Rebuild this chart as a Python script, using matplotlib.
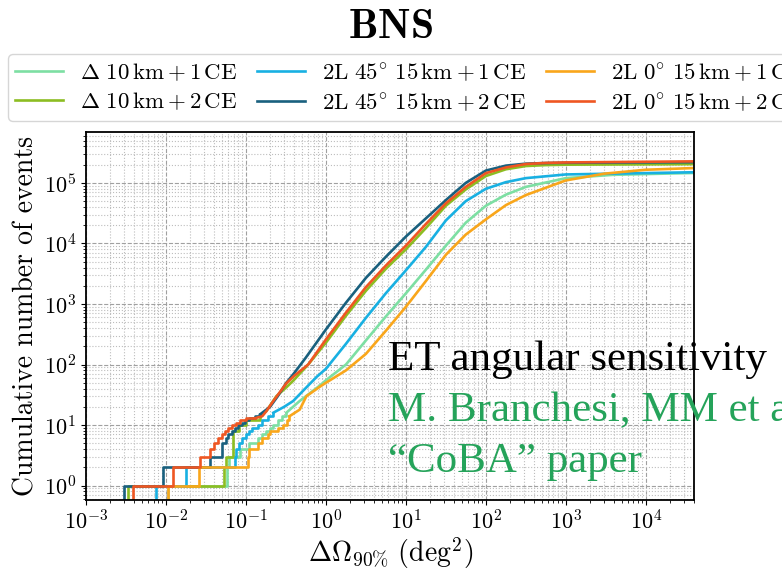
import numpy as np
import matplotlib
matplotlib.use('Agg')
import matplotlib.pyplot as plt

plt.rcParams['font.family'] = 'serif'
plt.rcParams['font.serif'] = ['cmr10']
plt.rcParams['mathtext.fontset'] = 'cm'
plt.rcParams['axes.formatter.use_mathtext'] = True

labels = [r'$\Delta\ 10\,\mathrm{km} + 1\,\mathrm{CE}$',
          r'$\Delta\ 10\,\mathrm{km} + 2\,\mathrm{CE}$',
          r'$2\mathrm{L}\ 45^{\circ}\ 15\,\mathrm{km} + 1\,\mathrm{CE}$',
          r'$2\mathrm{L}\ 45^{\circ}\ 15\,\mathrm{km} + 2\,\mathrm{CE}$',
          r'$2\mathrm{L}\ 0^{\circ}\ 15\,\mathrm{km} + 1\,\mathrm{CE}$',
          r'$2\mathrm{L}\ 0^{\circ}\ 15\,\mathrm{km} + 2\,\mathrm{CE}$']
colors = ['#7ddfa3', '#8cbd22', '#18b0e2', '#19607e', '#f9a61b', '#ef5622']

# low-count part: sky area (deg^2) where the cumulative count steps up
mint_sx = [0.0105, 0.058, 0.061, 0.085, 0.11, 0.14, 0.16, 0.18, 0.20, 0.22, 0.25, 0.28, 0.32]
mint_sn = [1, 2, 3, 4, 5, 6, 7, 8, 9, 10, 12, 14, 16]
green_sx = [0.00333, 0.053, 0.057, 0.069, 0.083, 0.10, 0.148]
green_sn = [1, 2, 3, 8, 10, 12, 14]
lblue_sx = [0.0075, 0.0176, 0.072, 0.075, 0.083, 0.090, 0.10, 0.11, 0.12, 0.14, 0.16, 0.19, 0.22]
lblue_sn = [1, 2, 3, 4, 5, 6, 7, 8, 9, 10, 12, 14, 16]
teal_sx = [0.0030, 0.0092, 0.035, 0.050, 0.056, 0.060, 0.066, 0.072, 0.080, 0.088, 0.098, 0.11, 0.13, 0.15]
teal_sn = [1, 2, 3, 5, 6, 7, 8, 9, 10, 11, 12, 13, 14, 15]
orange_sx = [0.0105, 0.026, 0.105, 0.11, 0.14, 0.16, 0.19, 0.20, 0.25, 0.29, 0.33, 0.35]
orange_sn = [1, 2, 3, 4, 5, 6, 7, 8, 9, 10, 12, 14]
red_sx = [0.00385, 0.0122, 0.027, 0.035, 0.040, 0.045, 0.050, 0.055, 0.060, 0.066, 0.075, 0.085, 0.10, 0.13]
red_sn = [1, 2, 3, 4, 5, 6, 7, 8, 9, 10, 11, 12, 13, 13]

# high-count part: smooth cumulative curves
mint_x = [0.32, 0.47, 0.84, 1.0, 1.78, 3.16, 5.6, 10, 17.8, 31.6, 56, 100, 178, 316, 1000, 3900, 4e4]
mint_y = [16, 25, 45, 55, 100, 250, 620, 1500, 3700, 9200, 2.2e4, 4.2e4, 6.4e4, 8.6e4, 1.2e5, 1.36e5, 1.46e5]
green_x = [0.148, 0.18, 0.24, 0.32, 0.4, 0.6, 1.0, 1.78, 3.16, 5.6, 10, 17.8, 31.6, 56, 100, 178, 316, 562, 1000, 4e4]
green_y = [14, 17, 30, 42, 56, 100, 230, 640, 1650, 3800, 8000, 1.8e4, 4.2e4, 7.8e4, 1.3e5, 1.68e5, 1.9e5, 1.97e5, 2.0e5, 2.04e5]
lblue_x = [0.22, 0.3, 0.39, 0.57, 0.77, 1.0, 1.78, 3.16, 5.6, 10, 17.8, 31.6, 56, 100, 178, 316, 1000, 4e4]
lblue_y = [16, 20, 25, 42, 63, 85, 220, 590, 1500, 3600, 8800, 2.4e4, 5.0e4, 8.0e4, 1.03e5, 1.2e5, 1.38e5, 1.5e5]
teal_x = [0.15, 0.2, 0.25, 0.32, 0.4, 0.56, 1.0, 1.78, 3.16, 5.6, 10, 17.8, 31.6, 56, 100, 178, 316, 562, 1000, 4e4]
teal_y = [15, 20, 30, 50, 72, 130, 380, 1050, 2700, 6000, 1.3e4, 2.6e4, 5.2e4, 1.0e5, 1.6e5, 1.93e5, 2.08e5, 2.13e5, 2.15e5, 2.2e5]
orange_x = [0.35, 0.47, 0.57, 0.84, 1.0, 1.78, 3.16, 5.6, 10, 17.8, 31.6, 56, 100, 178, 316, 1000, 3000, 1e4, 4e4]
orange_y = [14, 18, 30, 43, 50, 80, 150, 360, 900, 2400, 6500, 1.4e4, 2.5e4, 4.3e4, 6.3e4, 1.1e5, 1.42e5, 1.65e5, 1.76e5]
red_x = [0.13, 0.16, 0.18, 0.22, 0.32, 0.4, 0.6, 1.0, 1.78, 3.16, 5.6, 10, 17.8, 31.6, 56, 100, 178, 316, 562, 1000, 4e4]
red_y = [13, 14, 17, 25, 49, 65, 100, 260, 720, 1900, 4300, 9200, 2.1e4, 4.6e4, 8.6e4, 1.45e5, 1.8e5, 2.05e5, 2.14e5, 2.18e5, 2.27e5]

step_x = [mint_sx, green_sx, lblue_sx, teal_sx, orange_sx, red_sx]
step_n = [mint_sn, green_sn, lblue_sn, teal_sn, orange_sn, red_sn]
curve_x = [mint_x, green_x, lblue_x, teal_x, orange_x, red_x]
curve_y = [mint_y, green_y, lblue_y, teal_y, orange_y, red_y]

fig = plt.figure(figsize=(7.82, 5.72), dpi=100)
ax = fig.add_axes([0.110, 0.126, 0.778, 0.643])

for i in range(6):
    sx = [step_x[i][0]] + step_x[i]
    sn = [0] + step_n[i]
    ax.step(sx, sn, where='post', color=colors[i], lw=1.9)
    ax.plot(curve_x[i], curve_y[i], color=colors[i], lw=1.9, label=labels[i])

ax.set_xscale('log')
ax.set_yscale('log')
ax.set_xlim(1e-3, 4.05e4)
ax.set_ylim(0.58, 6.9e5)
ax.xaxis.set_major_locator(matplotlib.ticker.LogLocator(base=10, numticks=20))
ax.xaxis.set_minor_locator(matplotlib.ticker.LogLocator(base=10, subs=np.arange(2, 10), numticks=20))
ax.yaxis.set_minor_locator(matplotlib.ticker.LogLocator(base=10, subs=np.arange(2, 10), numticks=20))
ax.yaxis.set_minor_formatter(matplotlib.ticker.NullFormatter())
ax.xaxis.set_minor_formatter(matplotlib.ticker.NullFormatter())
ax.grid(True, which='major', color='#a0a0a0', ls='--', lw=0.8)
ax.grid(True, which='minor', color='#bdbdbd', ls=':', lw=0.8)
ax.tick_params(labelsize=16)
for s in ax.spines.values():
    s.set_linewidth(1.3)

ax.set_xlabel(r'$\Delta\Omega_{90\%}\ (\mathrm{deg}^2)$', fontsize=20, labelpad=1)
ax.set_ylabel('Cumulative number of events', fontsize=20)
ax.yaxis.set_label_coords(-0.077, 0.5)

fig.text(0.499, 1 - 27 / 572, r'$\mathbf{BNS}$', fontsize=30, ha='center', va='center')

fig.legend(loc='upper left', bbox_to_anchor=(8 / 782, 1 - 54 / 572), ncol=3,
           fontsize=16.5, handlelength=2.1, handletextpad=0.75, columnspacing=0.85,
           labelspacing=0.3, borderpad=0.3,
           frameon=True, edgecolor='#cccccc', fancybox=True, borderaxespad=0)

fig.text(388 / 782, 1 - 370 / 572, 'ET angular sensitivity', family='Liberation Serif',
         fontsize=31, color='black', va='baseline')
fig.text(388 / 782, 1 - 421 / 572, 'M. Branchesi, MM et al.', family='Liberation Serif',
         fontsize=31, color='#25a35a', va='baseline')
fig.text(388 / 782, 1 - 472 / 572, '\u201cCoBA\u201d paper', family='Liberation Serif',
         fontsize=31, color='#25a35a', va='baseline')

fig.savefig('out.png', dpi=100)
